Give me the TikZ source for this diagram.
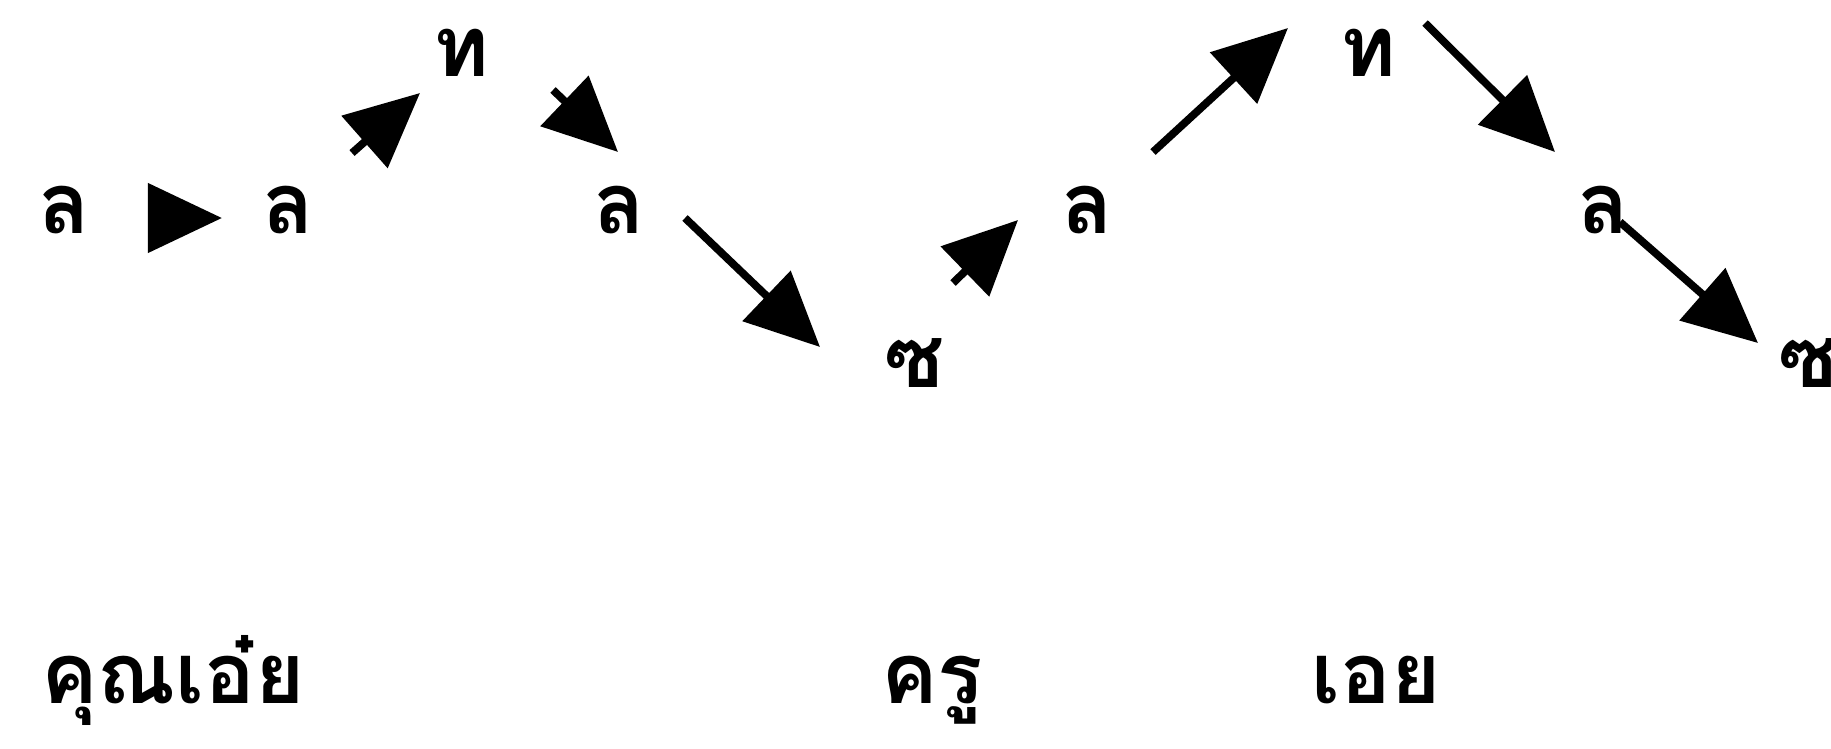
\documentclass[tikz,border=0pt]{standalone}
\usepackage{fontspec}
\newfontfamily\thaifont[Script=Thai]{Loma}
\usetikzlibrary{arrows.meta,calc}
\tikzset{
  thaitext/.style={font=\thaifont\bfseries\fontsize{24pt}{27pt}\selectfont},
  glyph/.style={thaitext, inner sep=0pt, text height=0.5cm, text depth=0pt},
  word/.style={thaitext, inner sep=0pt, anchor=base},
  arr/.style={line width=2.2pt, -{Triangle[length=0.74cm,width=0.68cm]}}
}
\begin{document}
\begin{tikzpicture}[x=0.01cm,y=-0.01cm]
\useasboundingbox (0,0) rectangle (1831,748);
\fill[white] (0,0) rectangle (1831,748);
% letters
\node[glyph] (l1) at (64,208) {ล};
\node[glyph] (l2) at (288,208) {ล};
\node[glyph] (t1) at (461,51) {ท};
\node[glyph] (l3) at (619,208) {ล};
\node[glyph] (s1) at (914,362) {ซ};
\node[glyph] (l4) at (1087,208) {ล};
\node[glyph] (t2) at (1368,51) {ท};
\node[glyph] (l5) at (1603,208) {ล};
\node[glyph] (s2) at (1808,362) {ซ};
% words
\node[word] (w1) at (173,703) {คุณเอ๋ย};
\node[word] (w2) at (932,703) {ครู};
\node[word] (w3) at (1376,703) {เอย};
% arrows
\draw[arr] ($(l1)+(86,10)$) -- ($(l2)+(-66,10)$);
\draw[arr] ($(l2)+(64,-55)$) -- ($(t1)+(-41,42)$);
\draw[arr] ($(t1)+(92,39)$) -- ($(l3)+(-1,-56)$);
\draw[arr] ($(l3)+(66,10)$) -- ($(s1)+(-94,-15)$);
\draw[arr] ($(s1)+(39,-79)$) -- ($(l4)+(-69,12)$);
\draw[arr] ($(l4)+(66,-56)$) -- ($(t2)+(-80,-23)$);
\draw[arr] ($(t2)+(57,-28)$) -- ($(l5)+(-48,-56)$);
\draw[arr] ($(l5)+(17,14)$) -- ($(s2)+(-50,-19)$);
\end{tikzpicture}
\end{document}
